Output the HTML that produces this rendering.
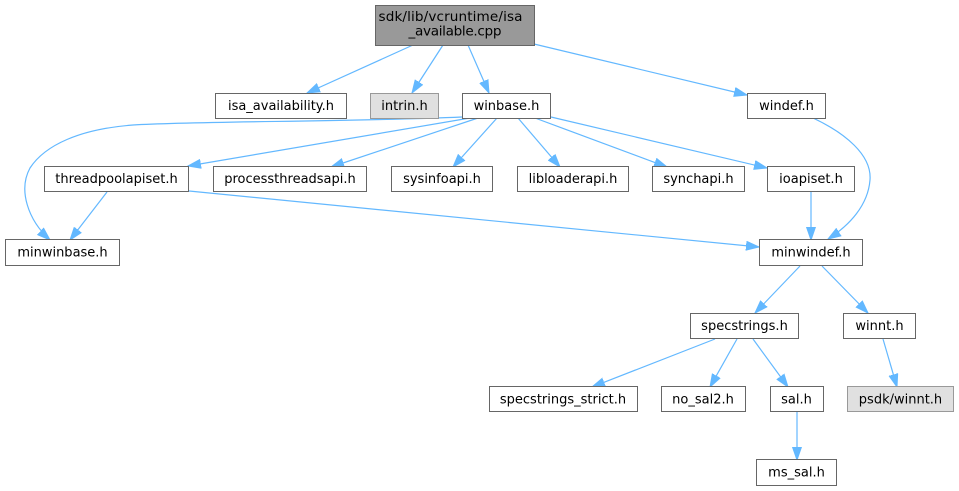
<!DOCTYPE html>
<html><head><meta charset="utf-8"><style>
html,body{margin:0;padding:0;background:#fff;}
svg{display:block;}
text{font-family:"DejaVu Sans","Liberation Sans",sans-serif;font-size:13px;fill:#000;text-anchor:middle;}
.n{fill:#fff;stroke:#666;stroke-width:1;}
.g{fill:#e0e0e0;stroke:#999;stroke-width:1;}
.r{fill:#999;stroke:#666;stroke-width:1;}
.e{fill:none;stroke:#63b8ff;stroke-width:1.2;marker-end:url(#a);}
</style></head><body>
<svg width="959" height="491" viewBox="0 0 959 491" xmlns="http://www.w3.org/2000/svg">
<defs>
<marker id="a" markerWidth="14" markerHeight="10" refX="13" refY="5" orient="auto" markerUnits="userSpaceOnUse">
<path d="M0,0.5 L13,5 L0,9.5 z" fill="#63b8ff" stroke="#63b8ff" stroke-width="1"/>
</marker>
</defs>
<!-- edges -->
<path class="e" d="M413,45 L307,93"/>
<path class="e" d="M443,45 L412,93"/>
<path class="e" d="M468,45 L489,93"/>
<path class="e" d="M534,44 L747,95"/>
<path class="e" d="M462,117 C350,122 200,121 133,125 C80,129 45,145 30,168 C18,190 28,220 50,240"/>
<path class="e" d="M470,118 L188,166"/>
<path class="e" d="M478,118 L331,167"/>
<path class="e" d="M497,118 L453,167"/>
<path class="e" d="M518,118 L560,167"/>
<path class="e" d="M535,118 L667,167"/>
<path class="e" d="M551,117 L767,168"/>
<path class="e" d="M813,118 C845,133 872,155 870,180 C868,205 850,225 828,239"/>
<path class="e" d="M107,192 L70,240"/>
<path class="e" d="M189,191 L759,247"/>
<path class="e" d="M811,192 L811,240"/>
<path class="e" d="M800,266 L755,313"/>
<path class="e" d="M822,266 L868,313"/>
<path class="e" d="M715,339 L592,387"/>
<path class="e" d="M737,339 L710,387"/>
<path class="e" d="M753,339 L788,387"/>
<path class="e" d="M883,339 L897,387"/>
<path class="e" d="M797,412 L797,460"/>
<!-- nodes -->
<rect class="r" x="375.5" y="5.5" width="159" height="40"/>
<text x="450.5" y="21" style="font-size:13.6px" textLength="144" lengthAdjust="spacing">sdk/lib/vcruntime/isa</text>
<text x="455" y="35.5" style="font-size:13.6px" textLength="93" lengthAdjust="spacing">_available.cpp</text>

<rect class="n" x="215.5" y="93.5" width="131" height="25"/><text x="281" y="110">isa_availability.h</text>
<rect class="g" x="370.5" y="93.5" width="68" height="25"/><text x="404.5" y="110">intrin.h</text>
<rect class="n" x="462.5" y="93.5" width="88" height="25"/><text x="506.5" y="110">winbase.h</text>
<rect class="n" x="747.5" y="93.5" width="78" height="25"/><text x="786.5" y="110">windef.h</text>

<rect class="n" x="44.5" y="166.5" width="144" height="25"/><text x="116.5" y="183">threadpoolapiset.h</text>
<rect class="n" x="213.5" y="166.5" width="153" height="25"/><text x="290" y="183">processthreadsapi.h</text>
<rect class="n" x="391.5" y="166.5" width="101" height="25"/><text x="442" y="183">sysinfoapi.h</text>
<rect class="n" x="517.5" y="166.5" width="111" height="25"/><text x="573" y="183">libloaderapi.h</text>
<rect class="n" x="652.5" y="166.5" width="92" height="25"/><text x="698.5" y="183">synchapi.h</text>
<rect class="n" x="767.5" y="166.5" width="87" height="25"/><text x="811" y="183">ioapiset.h</text>

<rect class="n" x="5.5" y="239.5" width="114" height="26"/><text x="62.5" y="256.5">minwinbase.h</text>
<rect class="n" x="759.5" y="239.5" width="103" height="26"/><text x="811" y="256.5">minwindef.h</text>

<rect class="n" x="690.5" y="313.5" width="108" height="25"/><text x="744.5" y="330">specstrings.h</text>
<rect class="n" x="843.5" y="313.5" width="72" height="25"/><text x="879.5" y="330">winnt.h</text>

<rect class="n" x="489.5" y="386.5" width="148" height="25"/><text x="563" y="403.5">specstrings_strict.h</text>
<rect class="n" x="661.5" y="386.5" width="84" height="25"/><text x="703" y="403.5">no_sal2.h</text>
<rect class="n" x="770.5" y="386.5" width="53" height="25"/><text x="796.5" y="403.5">sal.h</text>
<rect class="g" x="847.5" y="386.5" width="106" height="25"/><text x="900.5" y="403.5">psdk/winnt.h</text>

<rect class="n" x="756.5" y="459.5" width="80" height="26"/><text x="796.5" y="476.5">ms_sal.h</text>
</svg>
</body></html>
